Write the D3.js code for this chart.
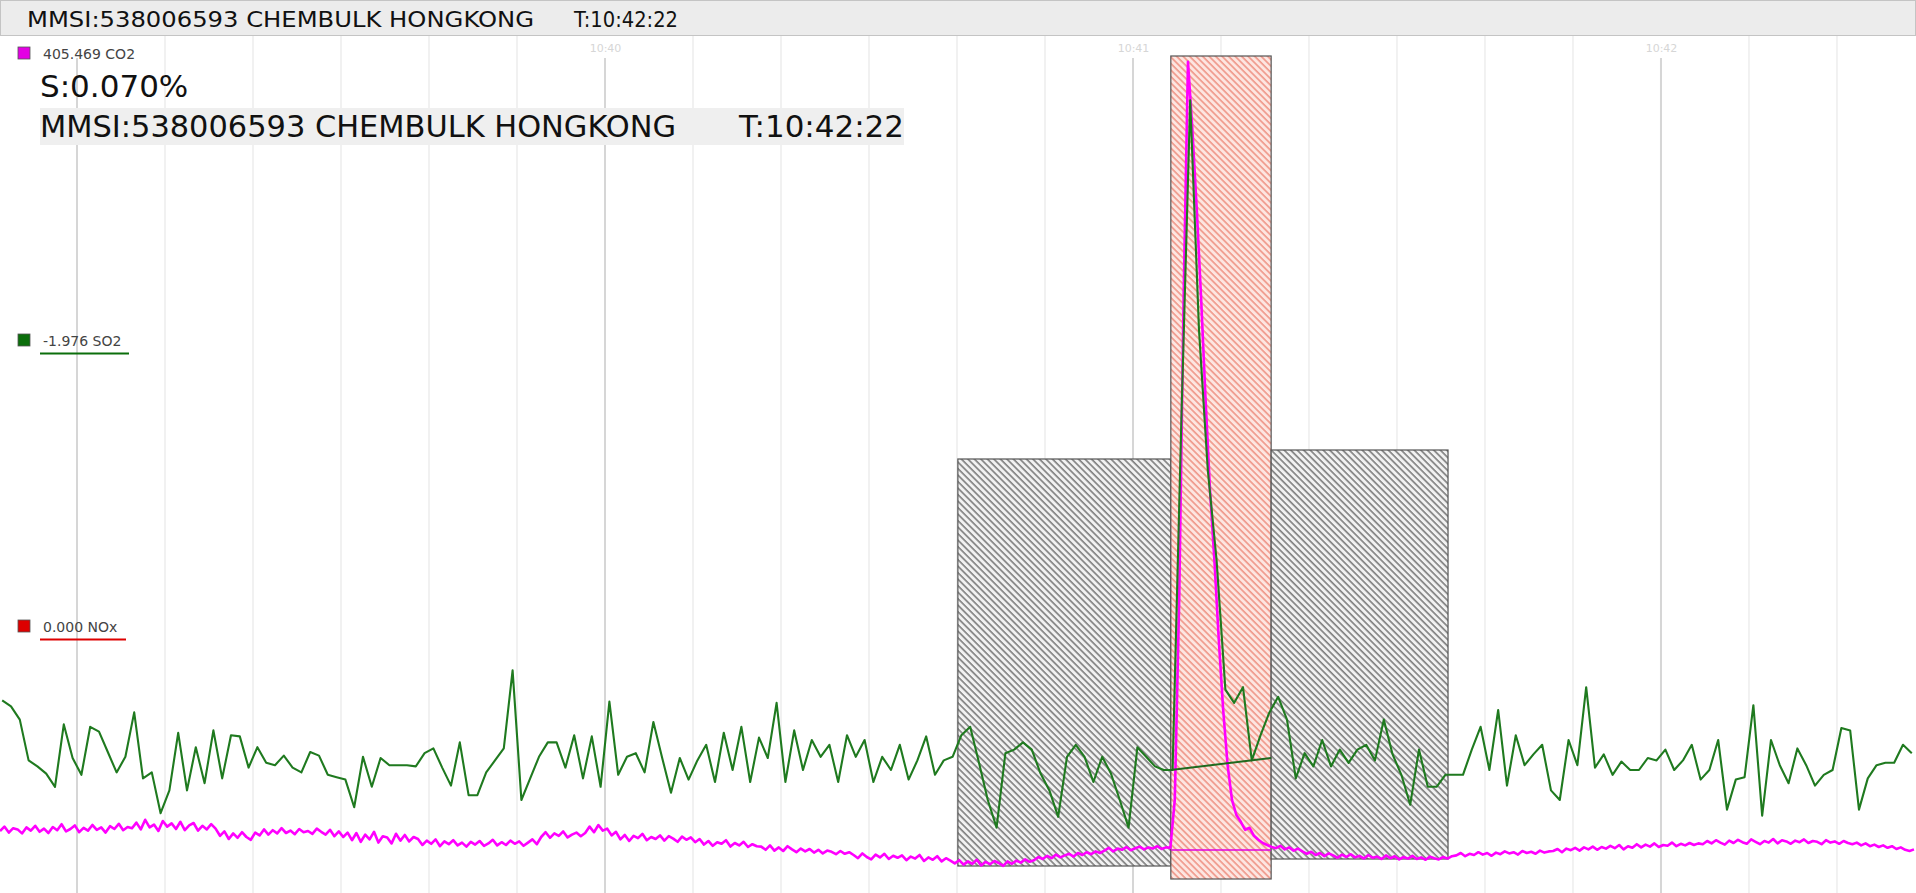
<!DOCTYPE html>
<html>
<head>
<meta charset="utf-8">
<script src="https://cdn.jsdelivr.net/npm/d3@7"></script>
<style>
  html, body { margin: 0; padding: 0; background: #fff; overflow: hidden; }
  svg { display: block; }
  text { font-family: "DejaVu Sans", Verdana, sans-serif; }
</style>
</head>
<body>
<svg id="chart"></svg>
<script>
// time is in seconds relative to 10:39:00
const viewStart = -8.75;
const viewEnd = 208.98;

// SO2 sampled every second, first sample at -8.5 s
const so2Start = -8.5;
const so2Step = 1;
const so2Values = [
  5.8,5.3,4.2,0.8,0.3,-0.3,-1.4,3.8,1.0,-0.4,
  3.6,3.2,1.5,-0.2,1.1,4.8,-0.7,-0.2,-3.6,-1.7,
  3.1,-1.7,1.9,-1.1,3.3,-0.7,2.9,2.8,0.2,1.9,
  0.6,0.4,1.2,0.2,-0.2,1.5,1.2,-0.4,-0.6,-0.8,
  -3.1,1.1,-1.4,1.0,0.4,0.4,0.4,0.3,1.4,1.8,
  0.2,-1.3,2.3,-2.1,-2.1,-0.2,0.8,1.8,8.3,-2.5,
  -0.7,1.1,2.3,2.3,0.2,2.9,-0.7,2.8,-1.4,5.7,
  -0.4,1.1,1.4,-0.2,4.0,1.0,-1.9,1.0,-0.8,0.8,
  2.1,-1.0,3.1,0.0,3.6,-1.0,2.7,1.0,5.6,-1.0,
  3.3,0.0,2.5,1.1,2.1,-1.0,2.9,1.1,2.5,-1.0,
  1.1,0.0,2.1,-0.8,0.8,2.8,-0.4,0.8,1.1,2.9,
  3.6,0.6,-2.5,-4.8,1.4,1.7,2.3,1.7,-0.3,-1.7,
  -3.9,1.1,2.1,1.1,-1.0,1.1,-0.3,-2.5,-4.8,1.9,
  1.1,0.3,0.0,0.0,29.2,55.8,36.7,25.0,17.5,6.7,
  5.6,6.9,0.8,2.9,4.8,6.1,4.2,-0.7,1.4,0.3,
  2.5,0.3,1.7,0.6,1.7,2.1,0.8,4.2,1.3,-0.4,
  -2.9,1.7,-1.4,-1.4,-0.4,-0.4,-0.4,1.7,3.6,0.0,
  5.0,-1.3,2.9,0.4,1.3,2.1,-1.7,-2.5,2.5,0.4,
  6.9,0.2,1.3,-0.4,0.7,0.0,0.0,1.0,0.8,1.7,
  0.0,0.8,2.1,-0.8,0.0,2.5,-3.3,-0.8,-0.6,5.4,
  -3.8,2.5,0.4,-1.1,1.8,0.4,-1.3,-0.4,0.0,3.5,
  3.3,-3.3,-0.7,0.4,0.6,0.6,2.1,1.4
];

// CO2 sampled every half second, first sample at -8.75 s
const co2Start = -8.75;
const co2Step = 0.5;
const co2Values = [
  408.5,409.6,408.1,409.2,408.9,407.9,409.4,408.6,409.8,408.3,
  409.1,408.0,409.5,408.7,410.2,408.4,409.0,409.9,408.2,409.3,
  408.6,410.0,408.8,409.4,408.1,409.7,409.0,410.3,408.7,409.5,
  409.2,410.6,408.9,411.3,409.4,410.1,408.5,411.0,409.6,410.4,
  409.0,410.8,408.7,409.9,410.5,408.6,409.8,408.9,410.2,409.1,
  407.3,408.4,406.5,407.9,406.8,408.2,407.0,406.3,408.1,407.4,
  408.9,407.6,408.7,407.9,409.2,408.0,408.6,407.7,409.0,408.2,
  408.5,407.8,409.1,408.3,407.6,408.8,407.2,408.4,407.0,408.1,
  406.2,408.0,405.8,407.6,406.4,408.3,405.6,407.2,406.9,405.4,
  407.8,406.1,407.5,405.9,407.0,406.5,405.0,406.1,405.3,406.4,
  404.7,405.9,405.2,406.2,404.9,405.6,404.6,405.8,405.1,406.0,
  404.8,405.4,406.3,404.9,405.7,405.0,406.1,405.3,405.9,404.8,
  405.6,406.4,405.2,407.0,408.2,406.8,407.9,407.3,408.4,406.9,
  407.6,408.1,407.2,408.0,409.6,408.2,410.0,408.6,409.1,407.4,
  408.3,406.4,407.5,406.0,407.3,406.7,407.8,406.2,407.0,406.5,
  407.4,406.1,407.2,406.6,405.8,407.1,406.3,406.9,405.7,406.5,
  405.1,406.0,404.8,405.7,405.3,406.2,404.6,405.5,404.9,405.8,
  404.5,405.2,404.7,404.6,403.8,404.9,403.6,404.4,403.5,404.7,
  403.9,403.2,404.1,403.4,404.0,403.1,403.8,402.9,403.6,403.3,
  402.7,403.5,402.8,403.2,402.5,401.7,402.9,402.0,401.4,402.6,
  401.9,402.8,401.5,402.3,401.8,402.4,401.2,402.1,401.6,402.5,
  401.0,401.9,401.3,402.2,400.9,401.7,401.1,400.4,401.2,400.1,
  400.9,400.3,401.3,399.9,400.8,400.2,401.0,400.5,399.8,400.9,
  400.3,401.1,400.6,401.4,400.8,401.2,402.0,401.5,402.3,401.7,
  402.6,401.9,402.4,402.8,402.1,403.0,402.5,403.2,402.7,403.4,
  403.0,403.6,404.3,403.4,404.1,403.8,404.5,403.7,404.2,404.6,
  403.9,404.4,404.1,404.7,404.0,404.4,404.3,416.3,466.3,541.3,
  600.8,583.8,563.8,541.3,516.3,493.8,476.3,456.3,438.8,425.0,
  416.3,412.5,410.8,408.8,409.3,407.3,406.3,405.5,405.0,404.5,
  404.2,404.8,403.9,404.4,403.6,404.1,403.4,402.8,403.3,402.5,
  403.0,402.2,402.9,402.4,401.8,402.6,402.0,402.7,401.9,402.3,
  401.6,402.5,401.8,402.1,401.5,402.4,401.7,402.2,401.4,402.0,
  401.6,402.3,401.5,401.9,401.3,402.1,401.7,401.4,402.0,401.6,
  402.2,402.4,403.0,402.2,402.8,402.5,403.2,402.6,403.0,402.3,
  403.1,402.7,403.4,402.9,403.2,402.6,403.5,403.0,403.3,402.8,
  403.6,403.1,403.4,403.5,404.0,403.2,404.1,403.7,404.3,403.6,
  404.4,403.9,404.6,403.8,404.5,404.1,404.8,404.2,405.0,403.9,
  404.7,404.3,405.2,404.4,405.1,404.6,405.4,404.5,405.0,404.8,
  405.6,404.7,405.3,404.9,405.5,405.0,405.4,405.2,406.0,405.4,
  406.2,405.6,405.1,406.1,405.5,406.3,405.7,405.3,406.4,405.8,
  405.2,406.0,405.6,406.5,405.4,406.2,405.9,405.3,406.1,405.7,
  406.4,405.5,406.0,405.8,405.2,406.2,405.6,405.9,405.3,406.0,
  405.5,405.2,405.6,404.9,405.4,404.7,405.1,404.5,404.9,404.3,
  404.7,404.0,404.4,403.8,403.5,403.9
];

// evaluation windows: start/end seconds, CO2 range covered
const windowStarts = [100.1, 124.3, 135.7];
const windowEnds   = [124.3, 135.7, 155.8];
const windowLow    = [399.75, 396.5, 401.5];
const windowHigh   = [501.5, 602.25, 503.75];
const windowKinds  = ['bg', 'peak', 'bg'];

// baselines drawn across the peak window
const so2Baseline = [[124.3, 0.0], [135.7, 1.0]];
const co2Baseline = [[124.3, 403.75], [135.7, 403.75]];

const legendNames  = ['CO2', 'SO2', 'NOx'];
const legendValues = ['405.469', '-1.976', '0.000'];
const legendColors = ['#e400e4', '#0b6e0b', '#dd0000'];
const legendY      = [47, 334, 620];

const headerText = 'MMSI:538006593 CHEMBULK HONGKONG';
const headerTime = 'T:10:42:22';
const sulphurText = 'S:0.070%';

const W = 1916, H = 893;
const base = new Date(2024, 0, 1, 10, 39, 0);
const at = s => new Date(base.getTime() + s * 1000);

const svg = d3.select('#chart').attr('width', W).attr('height', H);

const x = d3.scaleTime().domain([at(viewStart), at(viewEnd)]).range([0, W]);
const yCO2 = d3.scaleLinear().domain([400, 600]).range([865, 65]);
const ySO2 = d3.scaleLinear().domain([-10, 60]).range([890, 50]);

// hatch patterns
const defs = svg.append('defs');
function hatch(id, bg, fg, w) {
  const p = defs.append('pattern')
    .attr('id', id)
    .attr('patternUnits', 'userSpaceOnUse')
    .attr('width', 4.6)
    .attr('height', 4.6)
    .attr('patternTransform', 'rotate(-45)');
  p.append('rect').attr('width', 4.6).attr('height', 4.6).attr('fill', bg);
  p.append('line')
    .attr('x1', 1).attr('y1', 0).attr('x2', 1).attr('y2', 4.6)
    .attr('stroke', fg).attr('stroke-width', w);
}
hatch('hatchBg', '#f2f2f2', '#6c6c6c', 1.4);
hatch('hatchPeak', '#fde6e1', '#ef9587', 1.6);

// grid
const gridTicks = x.ticks(d3.timeSecond.every(10));
const minuteTicks = x.ticks(d3.timeMinute.every(1));
const isMinute = d => d.getSeconds() === 0;

svg.append('g').selectAll('line')
  .data(gridTicks)
  .join('line')
  .attr('x1', d => x(d)).attr('x2', d => x(d))
  .attr('y1', d => isMinute(d) ? 58 : 36)
  .attr('y2', H)
  .attr('stroke', d => isMinute(d) ? '#d6d6d6' : '#e8e8e8')
  .attr('stroke-width', d => isMinute(d) ? 2 : 1.2);

const axis = svg.append('g')
  .attr('transform', 'translate(0,55)')
  .call(d3.axisTop(x)
    .tickValues(minuteTicks.filter(d => x(d) > 200))
    .tickSize(0)
    .tickFormat(d3.timeFormat('%H:%M')));
axis.select('.domain').remove();
axis.selectAll('text')
  .attr('fill', '#d6d6d6')
  .attr('font-size', 11)
  .attr('font-family', '"DejaVu Sans", Verdana, sans-serif');

// windows
svg.append('g').selectAll('rect')
  .data(windowStarts.map((s, i) => i))
  .join('rect')
  .attr('x', i => x(at(windowStarts[i])))
  .attr('width', i => x(at(windowEnds[i])) - x(at(windowStarts[i])))
  .attr('y', i => yCO2(windowHigh[i]))
  .attr('height', i => yCO2(windowLow[i]) - yCO2(windowHigh[i]))
  .attr('fill', i => windowKinds[i] === 'peak' ? 'url(#hatchPeak)' : 'url(#hatchBg)')
  .attr('stroke', '#555')
  .attr('stroke-width', 1.2);

// series
const co2Line = d3.line()
  .x((d, i) => x(at(co2Start + i * co2Step)))
  .y(d => yCO2(d));
const so2Line = d3.line()
  .x((d, i) => x(at(so2Start + i * so2Step)))
  .y(d => ySO2(d));

svg.append('path')
  .datum(co2Values)
  .attr('d', co2Line)
  .attr('fill', 'none')
  .attr('stroke', '#ff00ff')
  .attr('stroke-width', 2.6)
  .attr('stroke-linejoin', 'round');

svg.append('path')
  .datum(so2Values)
  .attr('d', so2Line)
  .attr('fill', 'none')
  .attr('stroke', '#1f7a1f')
  .attr('stroke-width', 2.1)
  .attr('stroke-linejoin', 'round');

const pairLine = (yScale) => d3.line().x(d => x(at(d[0]))).y(d => yScale(d[1]));
svg.append('path')
  .datum(so2Baseline)
  .attr('d', pairLine(ySO2))
  .attr('stroke', '#1f6a1f').attr('stroke-width', 2).attr('fill', 'none');
svg.append('path')
  .datum(co2Baseline)
  .attr('d', pairLine(yCO2))
  .attr('stroke', '#e000e0').attr('stroke-width', 1.6).attr('fill', 'none');

// header bar
svg.append('rect')
  .attr('x', 0.5).attr('y', 0.5).attr('width', W - 1).attr('height', 35)
  .attr('fill', '#ececec').attr('stroke', '#c4c4c4');
svg.append('text')
  .attr('x', 27).attr('y', 27)
  .attr('font-size', 22)
  .attr('textLength', 507).attr('lengthAdjust', 'spacingAndGlyphs')
  .attr('fill', '#111')
  .text(headerText);
svg.append('text')
  .attr('x', 574).attr('y', 27)
  .attr('font-size', 22)
  .attr('textLength', 104).attr('lengthAdjust', 'spacingAndGlyphs')
  .attr('fill', '#111')
  .text(headerTime);

// legend
const leg = svg.append('g').selectAll('g')
  .data(legendNames.map((n, i) => i))
  .join('g')
  .attr('transform', i => `translate(18,${legendY[i]})`);
leg.append('rect')
  .attr('width', 12).attr('height', 12)
  .attr('fill', i => legendColors[i])
  .attr('stroke', '#555').attr('stroke-width', 0.8);
leg.append('text')
  .attr('x', 25).attr('y', 12)
  .attr('font-size', 14)
  .attr('fill', '#444')
  .text(i => `${legendValues[i]} ${legendNames[i]}`);
leg.filter(i => i > 0).append('line')
  .attr('x1', 22).attr('x2', i => i === 1 ? 111 : 108)
  .attr('y1', 19.5).attr('y2', 19.5)
  .attr('stroke', i => legendColors[i])
  .attr('stroke-width', 2);

// info block
svg.append('text')
  .attr('x', 40).attr('y', 97)
  .attr('font-size', 31)
  .attr('fill', '#111')
  .text(sulphurText);
svg.append('rect')
  .attr('x', 40).attr('y', 108).attr('width', 864).attr('height', 37)
  .attr('fill', '#efefef');
svg.append('text')
  .attr('x', 40).attr('y', 137)
  .attr('font-size', 30)
  .attr('textLength', 636).attr('lengthAdjust', 'spacingAndGlyphs')
  .attr('fill', '#111')
  .text(headerText);
svg.append('text')
  .attr('x', 739).attr('y', 137)
  .attr('font-size', 30)
  .attr('textLength', 165).attr('lengthAdjust', 'spacingAndGlyphs')
  .attr('fill', '#111')
  .text(headerTime);
</script>
</body>
</html>
